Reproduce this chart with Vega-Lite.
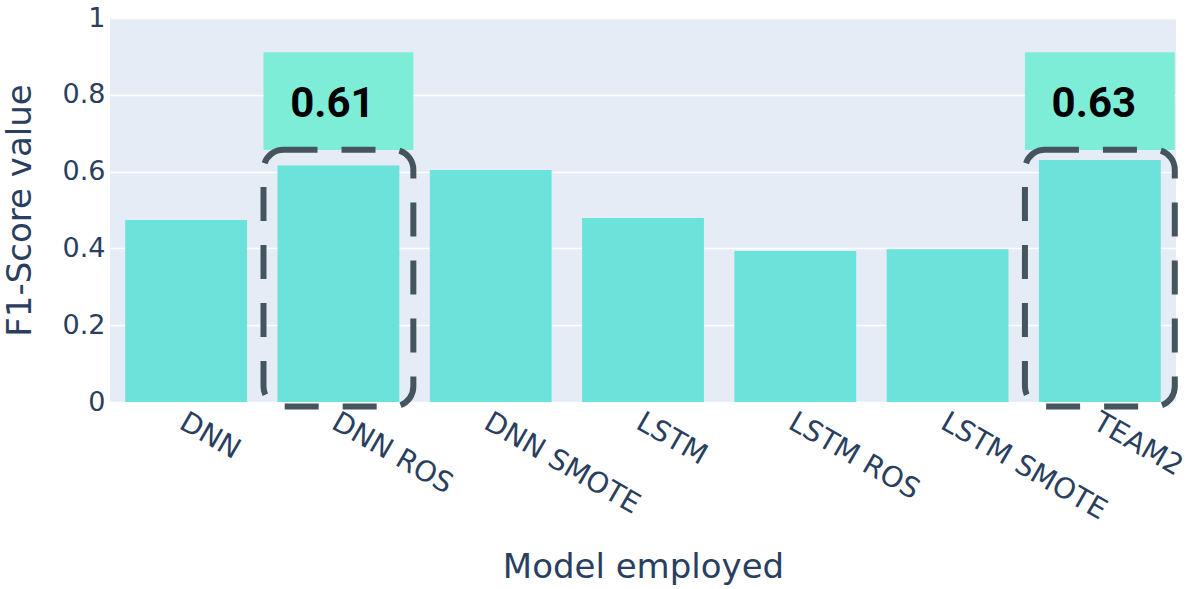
{
  "$schema": "https://vega.github.io/schema/vega-lite/v6.json",
  "width": 1066,
  "height": 384,
  "autosize": {"type": "none"},
  "padding": {"left": 110, "top": 18, "right": 20, "bottom": 187},
  "background": "white",
  "config": {
    "view": {"fill": "#e5ecf6", "stroke": null},
    "font": "DejaVu Sans"
  },
  "datasets": {
    "bars": [
      {"model": "DNN", "f1": 0.474},
      {"model": "DNN ROS", "f1": 0.616},
      {"model": "DNN SMOTE", "f1": 0.604},
      {"model": "LSTM", "f1": 0.479},
      {"model": "LSTM ROS", "f1": 0.393},
      {"model": "LSTM SMOTE", "f1": 0.398},
      {"model": "TEAM2", "f1": 0.630}
    ],
    "notes": [
      {"model": "DNN ROS", "label": "0.61", "top": 0.911, "bottom": 0.656, "ty": 0.775, "rtop": 0.657, "rbottom": -0.012},
      {"model": "TEAM2", "label": "0.63", "top": 0.911, "bottom": 0.656, "ty": 0.775, "rtop": 0.657, "rbottom": -0.012}
    ]
  },
  "encoding": {
    "x": {
      "field": "model",
      "type": "nominal",
      "sort": null,
      "scale": {"paddingInner": 0.2, "paddingOuter": 0.1},
      "axis": {
        "title": "Model employed",
        "titleFont": "DejaVu Sans",
        "titleFontSize": 34,
        "titleFontWeight": "normal",
        "titleColor": "#2a3f5f",
        "titleBaseline": "alphabetic",
        "titleY": 175,
        "labelAngle": 30,
        "labelAlign": "left",
        "labelBaseline": "top",
        "labelFont": "DejaVu Sans",
        "labelFontSize": 28.5,
        "labelColor": "#2a3f5f",
        "labelPadding": 5,
        "labelOffset": 3,
        "labelLimit": 0,
        "labelOverlap": false,
        "ticks": false,
        "domain": false,
        "grid": false
      }
    }
  },
  "layer": [
    {
      "data": {"name": "bars"},
      "mark": {"type": "bar", "color": "#6be2da"},
      "encoding": {
        "y": {
          "field": "f1",
          "type": "quantitative",
          "scale": {"domain": [0, 1], "nice": false},
          "axis": {
            "title": "F1-Score value",
            "titleFont": "DejaVu Sans",
            "titleFontSize": 34,
            "titleFontWeight": "normal",
            "titleColor": "#2a3f5f",
            "titleX": -80,
            "titleY": 192,
            "titleBaseline": "alphabetic",
            "values": [0, 0.2, 0.4, 0.6, 0.8, 1],
            "labelExpr": "datum.value == 0 ? '0' : datum.value == 1 ? '1' : format(datum.value, '.1f')",
            "labelFont": "DejaVu Sans",
            "labelFontSize": 27,
            "labelColor": "#2a3f5f",
            "labelPadding": 5,
            "ticks": false,
            "domain": false,
            "gridColor": "white",
            "gridWidth": 1.5
          }
        }
      }
    },
    {
      "data": {"name": "notes"},
      "mark": {"type": "bar", "color": "#7eedd8", "width": {"band": 1.23}},
      "encoding": {
        "y": {"field": "top", "type": "quantitative"},
        "y2": {"field": "bottom"}
      }
    },
    {
      "data": {"name": "notes"},
      "mark": {
        "type": "bar",
        "fill": null,
        "fillOpacity": 0,
        "stroke": "#44555f",
        "strokeWidth": 6,
        "strokeDash": [34, 24],
        "cornerRadius": 20,
        "clip": false,
        "width": {"band": 1.23}
      },
      "encoding": {
        "y": {"field": "rtop", "type": "quantitative"},
        "y2": {"field": "rbottom"}
      }
    },
    {
      "data": {"name": "notes"},
      "mark": {
        "type": "text",
        "font": "Roboto",
        "fontWeight": "bold",
        "fontSize": 42,
        "color": "black",
        "baseline": "middle",
        "dx": -6
      },
      "encoding": {
        "y": {"field": "ty", "type": "quantitative"},
        "text": {"field": "label"}
      }
    }
  ]
}
